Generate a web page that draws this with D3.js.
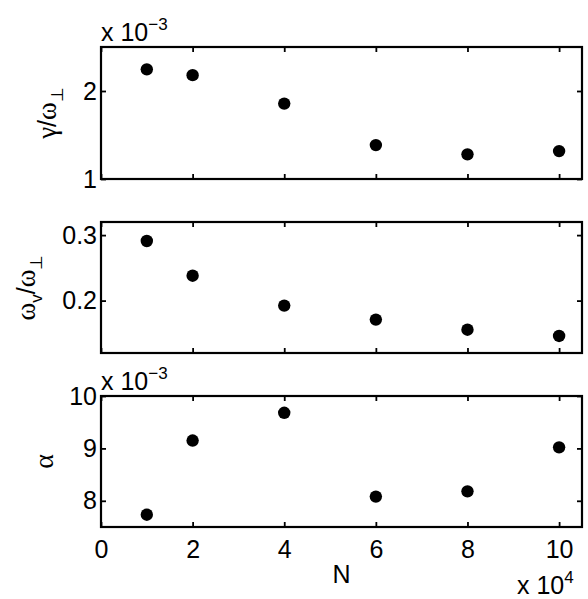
<!DOCTYPE html>
<html>
<head>
<meta charset="utf-8">
<script src="https://cdn.jsdelivr.net/npm/d3@7"></script>
<style>
  body { margin: 0; background: #fff; }
  svg { display: block; }
  text { font-family: "Liberation Sans", Arial, sans-serif; fill: #000; }
  .greek { font-family: "Liberation Serif", "Times New Roman", serif; }
</style>
</head>
<body>
<svg id="chart" width="588" height="599"></svg>
<script>
// N values (x 10^4)
const nValues = [1, 2, 4, 6, 8, 10];
// gamma / omega_perp (x 10^-3)
const gammaValues = [2.246, 2.18, 1.857, 1.385, 1.28, 1.317];
// omega_v / omega_perp
const omegaValues = [0.291, 0.238, 0.1924, 0.171, 0.1556, 0.146];
// alpha (x 10^-3)
const alphaValues = [7.734, 9.15, 9.68, 8.08, 8.18, 9.02];

const xTicks = [0, 2, 4, 6, 8, 10];
const gammaTicks = [1, 2];
const omegaTicks = [0.2, 0.3];
const alphaTicks = [8, 9, 10];

const fontSize = 25;
const svg = d3.select('#chart');
const xScale = d3.scaleLinear().domain([0, 10.5]).range([101, 582]);

// label pieces: [text, dy, font size, greek?]
const panels = [
  {
    values: gammaValues, domain: [1, 2.5], ticks: gammaTicks, fmt: d3.format('d'),
    top: 47, bottom: 179, exponent: '\u22123', labelX: 56,
    label: [['γ', 0, 27, true], ['/', 0, fontSize, false], ['ω', 0, 27, true], ['⊥', 7, 17, false]],
  },
  {
    values: omegaValues, domain: [0.12, 0.32], ticks: omegaTicks, fmt: d3.format('.1f'),
    top: 222, bottom: 353, exponent: null, labelX: 35,
    label: [['ω', 0, 27, true], ['v', 7, 17, false], ['/', -7, fontSize, false], ['ω', 0, 27, true], ['⊥', 7, 17, false]],
  },
  {
    values: alphaValues, domain: [7.5, 10], ticks: alphaTicks, fmt: d3.format('d'),
    top: 396, bottom: 527, exponent: '\u22123', labelX: 53,
    label: [['α', 0, 28, true]],
  },
];

panels.forEach((p, i) => {
  const yScale = d3.scaleLinear().domain(p.domain).range([p.bottom, p.top]);
  const g = svg.append('g');
  const last = i === panels.length - 1;

  // inward ticks on all four sides
  g.append('g')
    .attr('transform', `translate(0, ${p.bottom})`)
    .call(d3.axisBottom(xScale).tickValues(xTicks).tickSize(-5).tickPadding(13)
      .tickFormat(last ? d3.format('d') : ''));
  g.append('g')
    .attr('transform', `translate(0, ${p.top})`)
    .call(d3.axisTop(xScale).tickValues(xTicks).tickSize(-5).tickFormat(''));
  g.append('g')
    .attr('transform', `translate(${xScale.range()[0]}, 0)`)
    .call(d3.axisLeft(yScale).tickValues(p.ticks).tickSize(-5).tickPadding(4).tickFormat(p.fmt));
  g.append('g')
    .attr('transform', `translate(${xScale.range()[1]}, 0)`)
    .call(d3.axisRight(yScale).tickValues(p.ticks).tickSize(-5).tickFormat(''));

  g.selectAll('.domain').remove();
  g.selectAll('.tick line').attr('stroke', '#000').attr('stroke-width', 1.8);
  g.selectAll('.tick text')
    .attr('font-family', '"Liberation Sans", Arial, sans-serif')
    .attr('font-size', fontSize)
    .attr('fill', '#000');

  g.append('rect')
    .attr('x', xScale.range()[0])
    .attr('y', p.top)
    .attr('width', xScale.range()[1] - xScale.range()[0])
    .attr('height', p.bottom - p.top)
    .attr('fill', 'none')
    .attr('stroke', '#000')
    .attr('stroke-width', 2.2);

  g.selectAll('circle')
    .data(p.values)
    .enter()
    .append('circle')
    .attr('cx', (d, j) => xScale(nValues[j]))
    .attr('cy', d => yScale(d))
    .attr('r', 6.2)
    .attr('fill', '#000');

  // exponent above the panel
  if (p.exponent) {
    const e = g.append('text')
      .attr('x', xScale.range()[0])
      .attr('y', p.top - 6.5)
      .attr('font-size', fontSize)
      .text('x 10');
    e.append('tspan').attr('dy', -11).attr('font-size', 17).text(p.exponent);
  }

  // rotated y label
  const cy = (p.top + p.bottom) / 2;
  const lab = g.append('text')
    .attr('transform', `translate(${p.labelX}, ${cy}) rotate(-90)`)
    .attr('text-anchor', 'middle')
    .attr('font-size', fontSize);
  p.label.forEach(([t, dy, fs, greek]) => {
    lab.append('tspan')
      .classed('greek', greek)
      .attr('dy', dy)
      .attr('font-size', fs)
      .text(t);
  });
});

// x label and exponent
svg.append('text')
  .attr('x', (xScale.range()[0] + xScale.range()[1]) / 2)
  .attr('y', 583)
  .attr('text-anchor', 'middle')
  .attr('font-size', fontSize)
  .text('N');

const xExp = svg.append('text')
  .attr('x', 517)
  .attr('y', 594)
  .attr('font-size', fontSize)
  .text('x 10');
xExp.append('tspan').attr('dy', -11).attr('font-size', 17).text('4');
</script>
</body>
</html>
